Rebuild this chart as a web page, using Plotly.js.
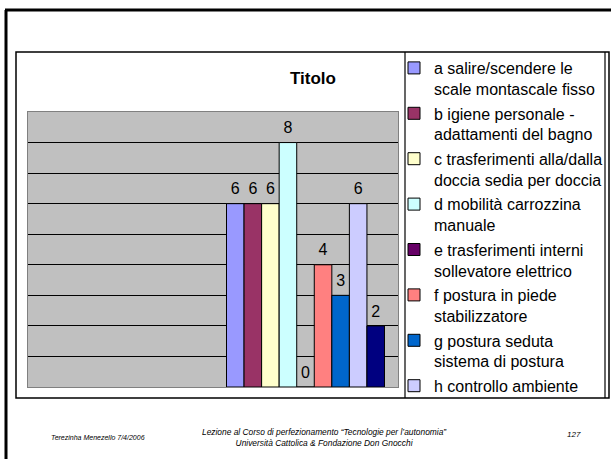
<!DOCTYPE html>
<html>
<head>
<meta charset="utf-8">
<script src="https://cdn.plot.ly/plotly-3.0.1.min.js"></script>
<style>
html,body{margin:0;padding:0;background:#fff;}
#chart{width:611px;height:459px;}
</style>
</head>
<body>
<div id="chart"></div>
<script>
// ---- data ----
const categories = ['Cat 1', 'Cat 2'];
const seriesNames = [
  'a salire/scendere le<br>scale montascale fisso',
  'b igiene personale -<br>adattamenti del bagno',
  'c trasferimenti alla/dalla<br>doccia sedia per doccia',
  'd mobilità carrozzina<br>manuale',
  'e trasferimenti interni<br>sollevatore elettrico',
  'f postura in piede<br>stabilizzatore',
  'g postura seduta<br>sistema di postura',
  'h controllo ambiente',
  'i'
];
const seriesValues = [6, 6, 6, 8, 0, 4, 3, 6, 2];
const seriesColors = ['#9999FF', '#993366', '#FFFFCC', '#CCFFFF', '#660066', '#FF8080', '#0066CC', '#CCCCFF', '#000080'];
const seriesInLegend = [true, true, true, true, true, true, true, true, false];
const chartTitle = 'Titolo';
const footerLeft = 'Terezinha Menezello 7/4/2006';
const footerCenter = 'Lezione al Corso di perfezionamento “Tecnologie per l’autonomia”<br>Università Cattolica &amp; Fondazione Don Gnocchi';
const footerRight = '127';

// ---- helpers ----
const W = 611, H = 459;
const px = v => v / W;
const py = v => 1 - v / H;
const FONT = '"Liberation Sans", Arial, sans-serif';

const traces = [];
seriesNames.forEach((name, i) => {
  traces.push({
    type: 'bar',
    name: name,
    legendgroup: 'lg' + i,
    x: [categories[1]],
    y: [seriesValues[i]],
    offsetgroup: 'g' + i,
    marker: {color: seriesColors[i], line: {color: '#000', width: 1}},
    showlegend: seriesInLegend[i],
    hoverinfo: 'skip'
  });
});
seriesNames.forEach((name, i) => {
  traces.push({
    type: 'scatter',
    mode: 'markers+text',
    name: name,
    legendgroup: 'lg' + i,
    x: [categories[1]],
    y: [seriesValues[i]],
    offsetgroup: 'g' + i,
    text: [String(seriesValues[i])],
    textposition: 'top center',
    textfont: {family: FONT, size: 16, color: '#000'},
    marker: {size: 7, opacity: 0},
    showlegend: false,
    hoverinfo: 'skip',
    cliponaxis: false
  });
});

const line = (x0, y0, x1, y1, w, c) => ({
  type: 'line', xref: 'paper', yref: 'paper',
  x0: px(x0), y0: py(y0), x1: px(x1), y1: py(y1),
  line: {color: c || '#000', width: w}
});

const layout = {
  width: W, height: H,
  margin: {l: 0, r: 0, t: 0, b: 0},
  paper_bgcolor: '#fff',
  plot_bgcolor: '#C0C0C0',
  font: {family: FONT, color: '#000'},
  barmode: 'group',
  bargap: 0.146,
  bargroupgap: 0,
  scattermode: 'group',
  scattergap: 0.146,
  xaxis: {
    domain: [px(28), px(398)],
    type: 'category',
    categoryorder: 'array',
    categoryarray: categories,
    range: [-0.5, 1.5],
    showticklabels: false, ticks: '', showgrid: false, zeroline: false,
    showline: true, mirror: true, linecolor: '#808080', linewidth: 1,
    fixedrange: true
  },
  yaxis: {
    domain: [py(387), py(112)],
    range: [0, 9], dtick: 1,
    showticklabels: false, ticks: '',
    showgrid: true, gridcolor: '#000', gridwidth: 1,
    zeroline: false,
    showline: true, mirror: true, linecolor: '#808080', linewidth: 1,
    fixedrange: true
  },
  showlegend: true,
  legend: {
    x: px(394), xanchor: 'left',
    y: py(51), yanchor: 'top',
    bgcolor: 'rgba(0,0,0,0)',
    borderwidth: 0,
    font: {family: FONT, size: 16, color: '#000'},
    valign: 'top',
    traceorder: 'grouped',
    tracegroupgap: 0.8,
    itemclick: false, itemdoubleclick: false
  },
  shapes: [
    // slide frame
    line(6, 10, 6, 459, 3),
    line(5, 10, 611, 10, 3),
    // chart area frame
    {type: 'rect', xref: 'paper', yref: 'paper', x0: px(16), y0: py(398), x1: px(609), y1: py(52), line: {color: '#000', width: 1.5}},
    // legend box
    line(405, 52, 405, 398, 1.2),
    line(605, 52, 605, 398, 1.2)
  ],
  annotations: [
    {text: '<b>' + chartTitle + '</b>', xref: 'paper', yref: 'paper', x: px(313), y: py(78),
     xanchor: 'center', yanchor: 'middle', showarrow: false, font: {family: FONT, size: 17, color: '#000'}},
    {text: '<i>' + footerLeft + '</i>', xref: 'paper', yref: 'paper', x: px(49), y: py(437),
     xanchor: 'left', yanchor: 'middle', showarrow: false, font: {family: FONT, size: 7, color: '#000'}},
    {text: '<i>' + footerCenter + '</i>', xref: 'paper', yref: 'paper', x: px(324), y: py(437),
     xanchor: 'center', yanchor: 'middle', showarrow: false, font: {family: FONT, size: 8.4, color: '#000'}},
    {text: '<i>' + footerRight + '</i>', xref: 'paper', yref: 'paper', x: px(574), y: py(434),
     xanchor: 'center', yanchor: 'middle', showarrow: false, font: {family: FONT, size: 8, color: '#000'}}
  ]
};

Plotly.newPlot('chart', traces, layout, {displayModeBar: false, staticPlot: true});
</script>
</body>
</html>
